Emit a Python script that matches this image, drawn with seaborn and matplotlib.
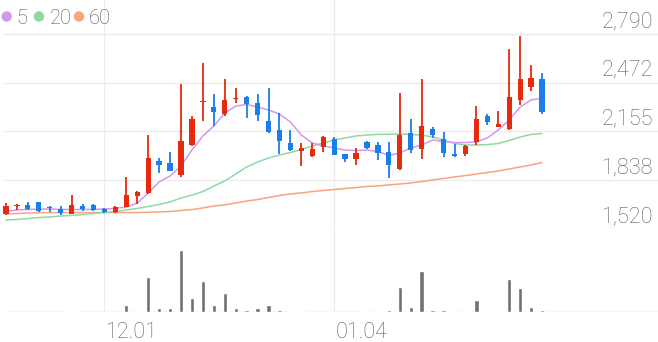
import numpy as np
import pandas as pd
import matplotlib
matplotlib.use("Agg")
import matplotlib.pyplot as plt
import seaborn as sns
from matplotlib.patches import Circle
from matplotlib.transforms import blended_transform_factory

sns.set_theme(style="white")
plt.rcParams["font.family"] = ["Roboto", "DejaVu Sans"]

# ---------------- data ----------------
opens = [1618, 1670, 1676, 1694, 1665, 1650, 1618, 1670, 1676, 1648, 1631, 1665, 1735, 1752, 1963,
         1950, 1872, 2067, 2345, 2316, 2269, 2367, 2382, 2339, 2225, 2165, 2082, 2030, 1995, 2052,
         2108, 2008, 1974, 2087, 2064, 2021, 1909, 2147, 2039, 2171, 2108, 2008, 2008, 2088, 2258,
         2186, 2171, 2360, 2447, 2497]
highs = [1687, 1680, 1698, 1697, 1667, 1670, 1741, 1681, 1683, 1655, 1667, 1859, 1769, 2134, 1980,
         2021, 2464, 2256, 2603, 2399, 2499, 2440, 2386, 2399, 2436, 2277, 2165, 2078, 2083, 2126,
         2116, 2010, 2046, 2093, 2087, 2087, 2404, 2234, 2499, 2182, 2154, 2072, 2064, 2319, 2271,
         2290, 2690, 2779, 2588, 2534]
lows = [1614, 1644, 1645, 1631, 1631, 1613, 1615, 1635, 1637, 1626, 1624, 1663, 1683, 1748, 1883,
        1897, 1861, 2060, 2225, 2191, 2256, 2339, 2241, 2225, 2143, 2006, 2028, 1930, 1989, 2019,
        2000, 1956, 1940, 2041, 1969, 1855, 1904, 2013, 1976, 2114, 1991, 1991, 1993, 2067, 2195,
        2184, 2168, 2329, 2419, 2269]
closes = [1670, 1678, 1648, 1637, 1655, 1624, 1674, 1648, 1644, 1631, 1665, 1740, 1758, 1980, 1937,
          1900, 2095, 2234, 2354, 2284, 2362, 2375, 2334, 2262, 2154, 2093, 2032, 2046, 2043, 2116,
          2004, 1979, 2017, 2047, 2012, 1937, 2132, 2034, 2193, 2134, 2013, 1997, 2062, 2234, 2217,
          2202, 2382, 2497, 2501, 2282]
ma5 = [1634, 1644, 1647, 1650, 1650, 1647, 1647, 1647, 1647, 1650, 1654, 1663, 1689, 1754, 1826,
       1865, 1930, 2034, 2126, 2191, 2275, 2321, 2331, 2315, 2295, 2269, 2217, 2132, 2080, 2061,
       2048, 2034, 2031, 2034, 2025, 1999, 2015, 2048, 2067, 2100, 2090, 2083, 2083, 2087, 2113,
       2165, 2230, 2315, 2360, 2373]
ma20 = [1579, 1582, 1588, 1595, 1598, 1605, 1608, 1614, 1621, 1628, 1634, 1644, 1654, 1667, 1680,
        1696, 1722, 1741, 1764, 1800, 1833, 1878, 1924, 1956, 1982, 2002, 2018, 2038, 2061, 2080,
        2100, 2113, 2126, 2132, 2136, 2137, 2139, 2136, 2132, 2119, 2100, 2077, 2067, 2067, 2070,
        2077, 2097, 2119, 2136, 2142]
ma60 = [1618, 1621, 1624, 1626, 1627, 1627, 1627, 1627, 1627, 1627, 1627, 1627, 1627, 1629, 1631,
        1634, 1641, 1647, 1657, 1670, 1677, 1689, 1702, 1712, 1725, 1738, 1748, 1755, 1764, 1771,
        1777, 1784, 1790, 1797, 1800, 1807, 1813, 1820, 1829, 1839, 1849, 1859, 1868, 1878, 1888,
        1898, 1911, 1924, 1937, 1953]
volumes = [500, 500, 500, 500, 500, 500, 1000, 500, 500, 500, 500, 6700, 1000, 34700, 3700,
           4300, 61700, 14300, 31000, 7000, 18700, 4300, 2300, 4300, 6700, 1700, 700, 1000, 500, 500,
           500, 500, 500, 700, 700, 1700, 25300, 4700, 40700, 2000, 1700, 700, 700, 12300, 1300,
           1300, 33000, 24000, 5000, 2000]
date_ticks = [9, 30]
date_labels = ["12.01", "01.04"]
price_ticks = [1520, 1838, 2155, 2472, 2790]
price_labels = ["1,520", "1,838", "2,155", "2,472", "2,790"]
ma_names = ["5", "20", "60"]

# ---------------- style ----------------
UP = "#e62a0c"
DOWN = "#1a7ee8"
MA_COLORS = ["#d596ee", "#8fd9a3", "#f7a47f"]
GRID = "#ececec"
TXT = "#606060"

n = len(opens)
df = pd.DataFrame({"idx": np.arange(n), "open": opens, "high": highs, "low": lows,
                   "close": closes, "ma5": ma5, "ma20": ma20, "ma60": ma60, "vol": volumes})

W, H = 658, 342
fig = plt.figure(figsize=(W / 100, H / 100), dpi=100)
fig.patch.set_facecolor("white")

ax = fig.add_axes([3 / W, (H - 229) / H, 655 / W, 229 / H])
axv = fig.add_axes([3 / W, (H - 312) / H, 655 / W, 83 / H])

xlim = (-0.27, 59.6)
for a in (ax, axv):
    a.set_xlim(*xlim)
    a.set_facecolor("none")
    for s in a.spines.values():
        s.set_visible(False)
    a.set_xticks([])
    a.set_yticks([])
    a.grid(False)

# price panel limits: 2790 at y=34 px, 1520 at y=229 px
ppx = (2790 - 1520) / 195.0
ax.set_ylim(1520, 2790 + 34 * ppx)

# gridlines
for t in price_ticks:
    ax.axhline(t, color=GRID, lw=1.0, zorder=0)
for t in date_ticks:
    ax.axvline(t, color=GRID, lw=1.0, zorder=0)
    axv.axvline(t, color=GRID, lw=1.0, zorder=0)
axv.axhline(0, color="#dcdcdc", lw=1.0, zorder=0)

# moving averages
for col, c in zip(["ma60", "ma20", "ma5"], MA_COLORS[::-1]):
    sns.lineplot(data=df, x="idx", y=col, ax=ax, color=c, lw=1.1, zorder=2, legend=False)

# candles
colors = [UP if c >= o else DOWN for o, c in zip(df["open"], df["close"])]
ax.vlines(df["idx"], df["low"], df["high"], colors=colors, lw=1.3, zorder=3)
bottoms = np.minimum(df["open"], df["close"])
heights = np.maximum(np.abs(df["close"] - df["open"]), 8)
ax.bar(df["idx"], heights, bottom=bottoms, width=0.48, color=colors, zorder=4, linewidth=0)
ax.set_xlabel("")
ax.set_ylabel("")
ax.set_xlim(*xlim)

# volume
sns.barplot(data=df, x="idx", y="vol", ax=axv, native_scale=True, color="#717171",
            saturation=1, width=0.4, zorder=3)
axv.set_ylim(0, max(volumes) * 83 / 61.7)
axv.set_xlim(*xlim)
axv.set_xlabel("")
axv.set_ylabel("")
axv.set_xticks([])
axv.set_yticks([])

# price labels (right, above gridlines)
trans = blended_transform_factory(ax.transAxes, ax.transData)
for t, lab in zip(price_ticks, price_labels):
    ax.annotate(lab, xy=(0.992, t), xycoords=trans, xytext=(0, 7),
                textcoords="offset pixels", ha="right", va="baseline",
                fontsize=15.6, color=TXT, fontweight="light")

# date labels
for t, lab in zip(date_ticks, date_labels):
    axv.annotate(lab, xy=(t, 0), xycoords=("data", "axes fraction"), xytext=(1, -25.5),
                 textcoords="offset pixels", ha="left", va="baseline",
                 fontsize=15.6, color=TXT, fontweight="light", annotation_clip=False)

# legend
cx = [6.7, 39, 79]
tx = [16.5, 49.5, 88.5]
for name, c, x0, x1 in zip(ma_names, MA_COLORS, cx, tx):
    fig.add_artist(Circle((x0 / 100, (H - 16.5) / 100), 0.052, transform=fig.dpi_scale_trans,
                          facecolor=c, edgecolor="none"))
    fig.text(x1 / W, 1 - 23.5 / H, name, ha="left", va="baseline", fontsize=14.5,
             color="#555555", fontweight="light")

fig.savefig("out.png", dpi=100)
